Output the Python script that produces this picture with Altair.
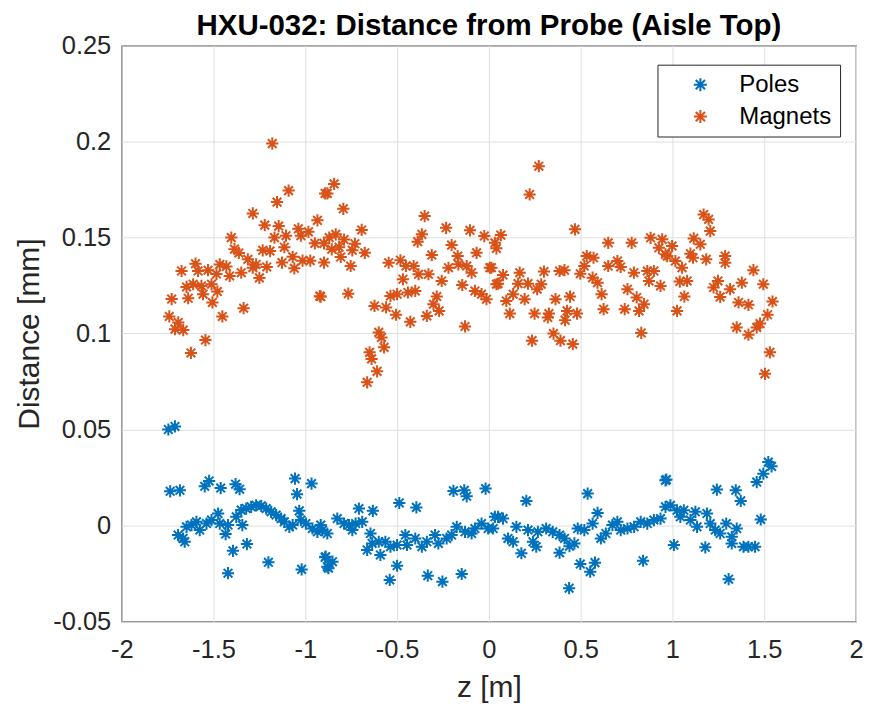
import altair as alt
import pandas as pd

# ---- data ----
poles_z = [-1.746, -1.710, -1.736, -1.683, -1.548, -1.524, -1.461, -1.380, -1.358, -1.056, -0.966, -1.045, -1.033,
           -1.693, -1.666, -1.657, -1.647, -1.620, -1.593, -1.575, -1.538, -1.511, -1.475, -1.466, -1.421, -1.376,
           -1.349, -1.322, -1.295, -1.268, -1.240, -1.213, -1.186, -1.159, -1.132, -1.114, -1.087, -1.069, -1.024,
           -0.997, -0.961, -0.934, -0.907, -0.880,
           -1.434, -1.343, -1.394, -1.318, -1.421, -1.201, -1.020, -0.892, -0.880,
           -0.916, -0.889, -0.852, -0.874, -0.826, -0.789, -0.762, -0.744, -0.726, -0.690, -0.708, -0.632, -0.645,
           -0.663, -0.636, -0.591, -0.600, -0.564, -0.536, -0.500, -0.455, -0.446, -0.401, -0.365, -0.338, -0.293,
           -0.275, -0.230, -0.203, -0.175, -0.130, -0.094, -0.076, -0.040, -0.004, 0.033,
           -0.488, -0.395, -0.193, -0.134, -0.121, -0.018, -0.500, -0.540, -0.333, -0.253, -0.148,
           0.050, 0.077, 0.023, 0.104, 0.132, 0.150, 0.177, 0.204, 0.213, 0.240, 0.258, 0.267, 0.312, 0.348, 0.385,
           0.412, 0.385, 0.439, 0.466, 0.437, 0.484, 0.520, 0.538, 0.565, 0.592, 0.498, 0.552, 0.578, 0.610, 0.637,
           0.673, 0.700, 0.718, 0.755, 0.791, 0.827, 0.863, 0.899, 0.935, 0.962, 0.962, 0.840,
           0.967, 0.989, 1.025, 1.062, 1.043, 1.098, 1.125, 1.134, 1.188, 1.206, 1.233, 1.260, 1.293, 1.350, 1.323,
           1.323, 1.387, 1.414, 1.450, 1.481, 1.242, 1.345, 1.372, 1.459, 1.495, 1.522, 1.540, 1.008, 1.179, 1.306]
poles_d = [0.0500, 0.0516, 0.0178, 0.0183, 0.0204, 0.0232, 0.0195, 0.0215, 0.0189, 0.0244, 0.0218, 0.0163, 0.0076,
           -0.0050, -0.0068, -0.0085, -0.0007, 0.0002, 0.0019, -0.0024, 0.0010, 0.0028, 0.0062, 0.0010, 0.0002, 0.0045,
           0.0080, 0.0088, 0.0097, 0.0105, 0.0102, 0.0088, 0.0071, 0.0054, 0.0036, 0.0019, -0.0007, 0.0002, 0.0028,
           0.0010, -0.0016, -0.0033, -0.0024, -0.0042,
           -0.0045, 0.0002, -0.0132, -0.0097, -0.0249, -0.0192, -0.0229, -0.0166, -0.0215,
           0.0002, -0.0163, -0.0189, -0.0223, 0.0036, 0.0010, 0.0002, -0.0024, 0.0010, 0.0019, 0.0088, 0.0076, -0.0042,
           -0.0128, -0.0094, -0.0154, -0.0085, -0.0085, -0.0111, -0.0102, -0.0050, -0.0102, -0.0068, -0.0111, -0.0085,
           -0.0050, -0.0094, -0.0068, -0.0050, -0.0007, -0.0033, -0.0042, -0.0016, 0.0010, -0.0016, 0.0045,
           0.0117, 0.0094, 0.0180, 0.0183, 0.0152, 0.0192, -0.0210, -0.0284, -0.0262, -0.0293, -0.0253,
           0.0045, 0.0036, -0.0016, -0.0068, -0.0085, -0.0007, -0.0145, 0.0128, -0.0024, -0.0085, -0.0111, -0.0033,
           -0.0016, -0.0033, -0.0050, -0.0068, -0.0142, -0.0108, -0.0094, -0.0327, -0.0016, -0.0024, 0.0166, 0.0010,
           0.0065, -0.0201, -0.0241, -0.0194, -0.0068, -0.0042, 0.0002, 0.0019, -0.0024, -0.0016, -0.0007, 0.0019,
           0.0010, 0.0028, 0.0036, 0.0235, 0.0097, -0.0184,
           0.0239, 0.0105, 0.0079, 0.0079, 0.0045, 0.0028, 0.0071, -0.0007, 0.0062, 0.0010, -0.0024, -0.0042, 0.0010,
           -0.0016, -0.0059, -0.0094, -0.0111, -0.0111, -0.0111, 0.0031, 0.0187, 0.0183, 0.0128, 0.0226, 0.0270,
           0.0330, 0.0308, -0.0102, -0.0114, -0.0280]

magnets_z = [-1.180, -1.091, -1.154, -1.286, -1.221, -1.145, -0.934, -0.892, -1.403, -1.168, -1.105, -1.038, -1.024,
             -0.983, -1.114, -0.948, -0.898, -1.386, -1.362, -1.232, -1.192, -1.313, -1.268, -1.210, -1.127, -1.069,
             -1.060, -1.015, -0.973, -0.898, -1.674, -1.598, -1.584, -1.530, -1.466, -1.430, -1.484, -1.412, -1.349,
             -1.286, -1.250, -1.647, -1.611, -1.566, -1.511, -1.728, -1.638, -1.557, -1.479, -1.506, -0.921, -1.336,
             -1.452, -1.741, -1.692, -1.710, -1.665, -1.544, -1.623,
             -0.843, -0.880, -0.793, -0.693, -0.870, -0.834, -0.789, -0.730, -0.856, -0.816, -0.744, -0.676, -0.807,
             -0.753, -0.916, -0.766, -0.350, -0.233, -0.103, -0.025, -0.365, -0.388, -0.203, -0.311, -0.067, -0.170,
             -0.546, -0.482, -0.452, -0.410, -0.383, -0.329, -0.220, -0.166, -0.121, -0.094, 0.005, -0.468, -0.257,
             -0.145, 0.041, -0.536, -0.500, -0.441, -0.401, -0.076, -0.040, -0.013, -0.284, -0.623, -0.560, -0.302,
             -0.506, -0.428, -0.338, -0.271, -0.130, -0.600, -0.585, -0.571, -0.650, -0.639, -0.609, -0.663,
             0.272, 0.222, 0.469, 0.065, 0.033, 0.041, 0.650, 0.778, 0.881, 0.944, 0.926, 0.962, 0.533, 0.570, 0.700,
             0.014, 0.077, 0.168, 0.300, 0.385, 0.412, 0.498, 0.520, 0.650, 0.718, 0.790, 0.863, 0.899, 0.050, 0.159,
             0.213, 0.285, 0.263, 0.565, 0.592, 0.872, 0.935, 0.132, 0.095, 0.195, 0.363, 0.442, 0.614, 0.755, 0.805,
             0.845, 0.114, 0.249, 0.327, 0.321, 0.426, 0.480, 0.415, 0.625, 0.740, 0.818, 0.830, 0.235, 0.352, 0.390,
             0.457,
             1.170, 1.197, 1.206, 0.998, 1.116, 1.152, 1.098, 1.112, 1.184, 1.287, 1.287, 0.971, 1.016, 1.052, 1.441,
             1.040, 1.080, 1.248, 1.224, 1.260, 1.314, 1.378, 1.495, 1.065, 1.360, 1.414, 1.545, 1.025, 1.518, 1.477,
             1.459, 1.350, 1.414, 1.531, 1.504]
magnets_d = [0.1990, 0.1745, 0.1685, 0.1626, 0.1565, 0.1560, 0.1590, 0.1730, 0.1500, 0.1500, 0.1510, 0.1546, 0.1510,
             0.1530, 0.1450, 0.1470, 0.1470, 0.1440, 0.1420, 0.1434, 0.1430, 0.1387, 0.1360, 0.1347, 0.1370, 0.1400,
             0.1340, 0.1380, 0.1380, 0.1370, 0.1326, 0.1364, 0.1326, 0.1330, 0.1360, 0.1350, 0.1310, 0.1300, 0.1317,
             0.1343, 0.1290, 0.1243, 0.1257, 0.1248, 0.1257, 0.1180, 0.1184, 0.1205, 0.1219, 0.1162, 0.1195, 0.1132,
             0.1089, 0.1089, 0.1058, 0.1023, 0.1018, 0.0966, 0.0899,
             0.1780, 0.1730, 0.1650, 0.1540, 0.1500, 0.1517, 0.1490, 0.1468, 0.1439, 0.1450, 0.1434, 0.1421, 0.1399,
             0.1352, 0.1193, 0.1208, 0.1612, 0.1551, 0.1538, 0.1508, 0.1517, 0.1479, 0.1461, 0.1409, 0.1421, 0.1404,
             0.1369, 0.1382, 0.1352, 0.1352, 0.1309, 0.1309, 0.1343, 0.1361, 0.1352, 0.1317, 0.1343, 0.1283, 0.1274,
             0.1253, 0.1257, 0.1196, 0.1205, 0.1214, 0.1222, 0.1222, 0.1205, 0.1179, 0.1193, 0.1144, 0.1136, 0.1153,
             0.1098, 0.1061, 0.1092, 0.1118, 0.1037, 0.1006, 0.0980, 0.0928, 0.0902, 0.0868, 0.0803, 0.0746,
             0.1872, 0.1725, 0.1543, 0.1513, 0.1473, 0.1444, 0.1473, 0.1473, 0.1499, 0.1491, 0.1447, 0.1413, 0.1404,
             0.1395, 0.1378, 0.1343, 0.1305, 0.1317, 0.1323, 0.1326, 0.1330, 0.1312, 0.1352, 0.1352, 0.1347, 0.1317,
             0.1326, 0.1326, 0.1260, 0.1260, 0.1260, 0.1257, 0.1231, 0.1291, 0.1265, 0.1274, 0.1248, 0.1205, 0.1170,
             0.1179, 0.1179, 0.1193, 0.1205, 0.1231, 0.1188, 0.1153, 0.1104, 0.1104, 0.1104, 0.1084, 0.1118, 0.1104,
             0.1070, 0.1127, 0.1127, 0.1118, 0.1003, 0.0963, 0.1000, 0.0963, 0.0945,
             0.1620, 0.1595, 0.1534, 0.1456, 0.1496, 0.1465, 0.1416, 0.1395, 0.1387, 0.1404, 0.1369, 0.1404, 0.1378,
             0.1343, 0.1330, 0.1271, 0.1274, 0.1274, 0.1240, 0.1191, 0.1231, 0.1265, 0.1257, 0.1193, 0.1162, 0.1150,
             0.1167, 0.1118, 0.1098, 0.1052, 0.1032, 0.1032, 0.0994, 0.0902, 0.0790]

series_names = ["Poles", "Magnets"]
series_colors = ["#0072BD", "#D95319"]
x_ticks = [-2, -1.5, -1, -0.5, 0, 0.5, 1, 1.5, 2]
y_ticks = [-0.05, 0, 0.05, 0.1, 0.15, 0.2, 0.25]

df = pd.concat([
    pd.DataFrame({"z": poles_z, "d": poles_d, "series": "Poles"}),
    pd.DataFrame({"z": magnets_z, "d": magnets_d, "series": "Magnets"}),
], ignore_index=True)

STAR = "M-1,0L1,0M0,-1L0,1M-0.71,-0.71L0.71,0.71M-0.71,0.71L0.71,-0.71"
FONT = "Liberation Sans"
label_expr = "datum.value < 0 ? '-' + format(-datum.value, '~g') : format(datum.value, '~g')"

chart = alt.Chart(df).mark_point(
    shape=STAR, filled=False, size=150, strokeWidth=2, opacity=1
).encode(
    x=alt.X("z:Q", title="z [m]",
            scale=alt.Scale(domain=[-2, 2], nice=False, zero=False),
            axis=alt.Axis(values=x_ticks, labelExpr=label_expr, labelFlush=False,
                          labelPadding=16, titlePadding=10)),
    y=alt.Y("d:Q", title="Distance [mm]",
            scale=alt.Scale(domain=[-0.05, 0.25], nice=False, zero=False),
            axis=alt.Axis(values=y_ticks, labelExpr=label_expr, labelFlush=False,
                          labelPadding=11, titlePadding=8)),
    color=alt.Color("series:N", sort=series_names,
                    scale=alt.Scale(domain=series_names, range=series_colors),
                    legend=alt.Legend(title=None, orient="none", legendX=537, legendY=19,
                                      symbolType=STAR, symbolSize=170, symbolStrokeWidth=2,
                                      symbolOffset=23, labelOffset=27,
                                      labelFontSize=24, labelFont=FONT, labelColor="#000000",
                                      padding=8, rowPadding=8,
                                      fillColor="white", strokeColor="#262626")),
    order=alt.Order("series:N", sort="descending"),
).properties(
    width=736, height=577,
    title=alt.TitleParams("HXU-032: Distance from Probe (Aisle Top)", font=FONT, fontSize=29.5,
                          fontWeight="bold", color="#000000", anchor="middle", offset=-8),
    autosize=alt.AutoSizeParams(type="none"),
    padding={"left": 114, "top": 37, "right": 8, "bottom": 85},
).configure_view(
    stroke="#262626", strokeWidth=1.2
).configure_axis(
    grid=True, gridColor="#dfdfdf", gridWidth=1, domain=False, ticks=False,
    labelFont=FONT, labelFontSize=25.5, labelColor="#262626",
    titleFont=FONT, titleFontSize=30, titleFontWeight="normal", titleColor="#262626",
)

chart.save("out.html", embed_options={"renderer": "svg", "actions": False})
